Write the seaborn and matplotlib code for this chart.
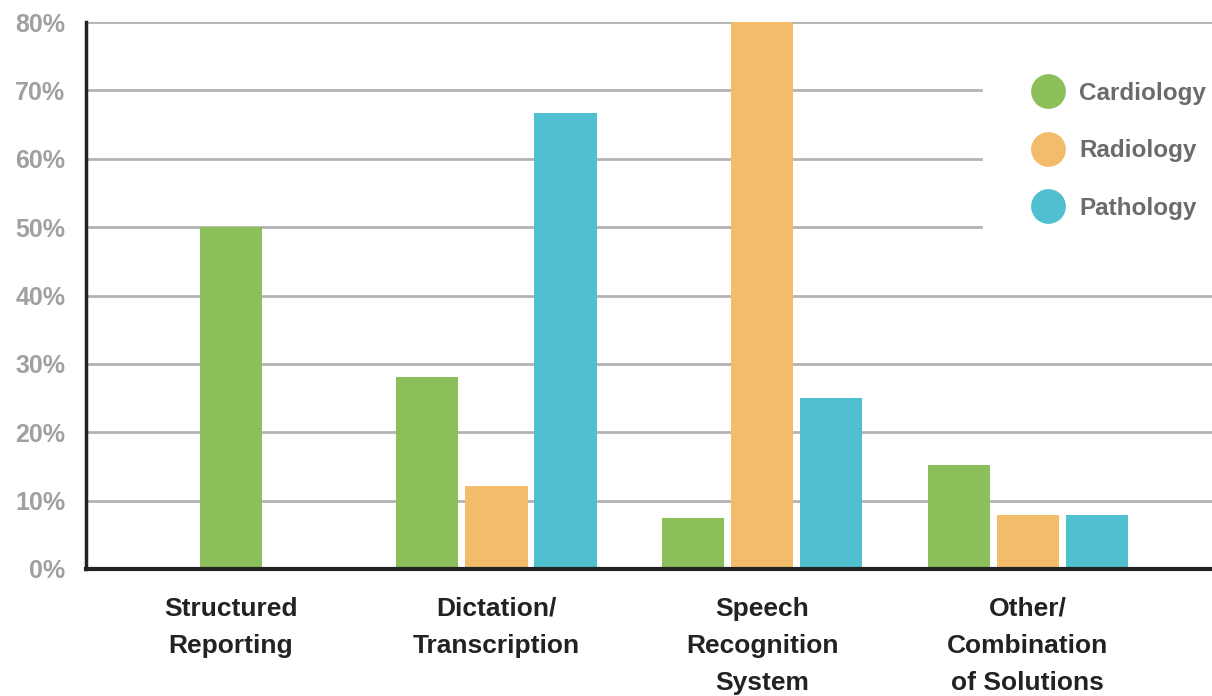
import matplotlib
matplotlib.use("Agg")
import matplotlib.pyplot as plt
from matplotlib.lines import Line2D
import seaborn as sns
import pandas as pd
import numpy as np

categories = ["Structured\nReporting", "Dictation/\nTranscription", "Speech\nRecognition\nSystem", "Other/\nCombination\nof Solutions"]
specialties = ["Cardiology", "Radiology", "Pathology"]
cardiology = [50.0, 28.1, 7.5, 15.2]
radiology = [None, 12.1, 80.0, 7.9]
pathology = [None, 66.7, 25.0, 7.9]
y_ticks = [0, 10, 20, 30, 40, 50, 60, 70, 80]
colors = ["#8BBF5A", "#F3BC6A", "#50BFCF"]

sns.set_style("white")
fam = ["Liberation Sans Narrow", "Liberation Sans", "DejaVu Sans"]
plt.rcParams["font.family"] = fam

rows = []
for i, c in enumerate(categories[1:], start=1):
    for s, vals in zip(specialties, [cardiology, radiology, pathology]):
        rows.append({"category": c, "specialty": s, "value": vals[i]})
df = pd.DataFrame(rows)
df_first = pd.DataFrame({"category": [categories[0]], "value": [cardiology[0]]})

fig = plt.figure(figsize=(12.12, 6.96), dpi=100)
ax = fig.add_axes([86 / 1212, 1 - 569 / 696, 1 - 86 / 1212, (569 - 22) / 696])

sns.barplot(data=df_first, x="category", y="value", order=categories, color=colors[0],
            width=0.233, saturation=1, linewidth=0, ax=ax, zorder=3)
sns.barplot(data=df, x="category", y="value", hue="specialty", hue_order=specialties,
            order=categories, palette=colors, width=0.78, gap=0.1, saturation=1,
            linewidth=0, ax=ax, zorder=3, legend=False)

ax.set_ylim(0, 80)
ax.set_xlim(-0.545, 3.693)
ax.set_yticks(y_ticks)
ax.set_yticklabels([f"{t}%" for t in y_ticks], color="#A0A0A0", fontsize=18, fontweight="bold")
ax.set_xticks(range(len(categories)))
ax.set_xticklabels(categories, fontsize=19, fontweight="bold", color="#222222", linespacing=1.68)
ax.tick_params(axis="y", length=0, pad=15)
ax.tick_params(axis="x", length=0, pad=20)
ax.set_xlabel("")
ax.set_ylabel("")
ax.grid(axis="y", color="#B3B3B3", linewidth=2, zorder=0)
ax.set_axisbelow(True)
for s in ["top", "right"]:
    ax.spines[s].set_visible(False)
ax.spines["left"].set_color("#222222")
ax.spines["left"].set_linewidth(2.5)
ax.spines["bottom"].set_color("#222222")
ax.spines["bottom"].set_linewidth(3)
ax.spines["bottom"].set_zorder(4)

handles = [Line2D([0], [0], marker="o", linestyle="", markersize=24,
                  markerfacecolor=c, markeredgecolor=c) for c in colors]
leg = ax.legend(handles, specialties, loc="upper left",
                bbox_to_anchor=(983 / 1212, 1 - 33 / 696), bbox_transform=fig.transFigure,
                frameon=True, facecolor="white", edgecolor="white", framealpha=1,
                labelspacing=1.42, handlelength=1.38, handletextpad=0.58, borderpad=2.0,
                borderaxespad=0, prop={"family": fam, "weight": "bold", "size": 17.5})
leg.get_frame().set_boxstyle("square", pad=0)
for t in leg.get_texts():
    t.set_color("#6B6B6B")
leg.set_zorder(5)

fig.savefig("out.png", dpi=100)
